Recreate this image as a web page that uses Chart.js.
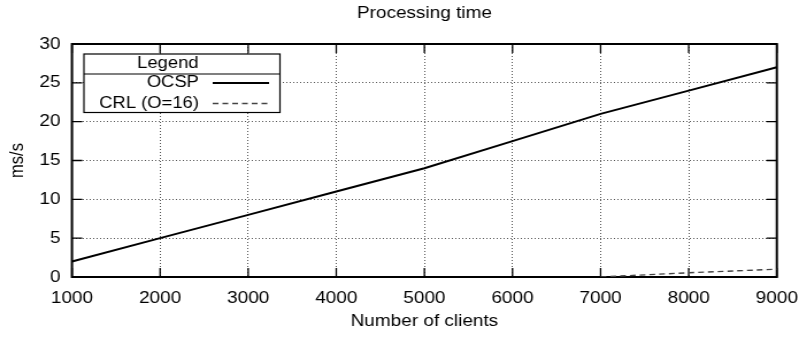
<!DOCTYPE html>
<html>
<head>
<meta charset="utf-8">
<script src="https://cdn.jsdelivr.net/npm/chart.js@4"></script>
<style>
  html, body { margin: 0; padding: 0; background: #fff; }
</style>
</head>
<body>
<!-- the reference is a gnuplot image stretched ~1.15x horizontally, so draw narrow and stretch -->
<canvas id="c" width="695" height="339" style="width:799px;height:339px;display:block"></canvas>
<script>
  // data
  const clients = [1000, 2000, 3000, 4000, 5000, 6000, 7000, 8000, 9000];
  const ocsp = [2, 5, 8, 11, 14, 17.5, 21, 24, 27];
  const crl = [null, null, null, null, null, null, 0, 0.55, 1];
  const seriesNames = ["OCSP", "CRL (O=16)"];

  const FONT = "'Liberation Sans', Arial, Helvetica, sans-serif";
  const toPoints = (ys) => clients.map((x, i) => ({ x: x, y: ys[i] }));

  // gnuplot style frame: solid border + inward tick marks on all four sides
  const framePlugin = {
    id: "frame",
    beforeDatasetsDraw: (chart) => {
      const ctx = chart.ctx;
      const a = chart.chartArea;
      const xs = chart.scales.x, ys = chart.scales.y;
      ctx.save();
      ctx.strokeStyle = "#000";
      ctx.lineWidth = 1.3;
      ctx.beginPath();
      xs.ticks.forEach(t => {
        const px = xs.getPixelForValue(t.value);
        ctx.moveTo(px, a.bottom); ctx.lineTo(px, a.bottom - 9);
        ctx.moveTo(px, a.top); ctx.lineTo(px, a.top + 9);
      });
      ys.ticks.forEach(t => {
        const py = ys.getPixelForValue(t.value);
        ctx.moveTo(a.left, py); ctx.lineTo(a.left + 9, py);
        ctx.moveTo(a.right, py); ctx.lineTo(a.right - 9, py);
      });
      ctx.stroke();
      ctx.lineWidth = 2;
      ctx.strokeRect(a.left, a.top, a.right - a.left, a.bottom - a.top);
      ctx.restore();
    },
    // boxed key with a "Legend" header, drawn over the plot
    afterDatasetsDraw: (chart) => {
      const ctx = chart.ctx;
      const ds = chart.data.datasets;
      const box = { l: 73, t: 54, r: 243.5, b: 112.5, sep: 74 };
      ctx.save();
      ctx.fillStyle = "#fff";
      ctx.fillRect(box.l, box.t, box.r - box.l, box.b - box.t);
      ctx.strokeStyle = "#000";
      ctx.lineWidth = 1.2;
      ctx.strokeRect(box.l, box.t, box.r - box.l, box.b - box.t);
      ctx.beginPath();
      ctx.moveTo(box.l, box.sep); ctx.lineTo(box.r, box.sep);
      ctx.stroke();

      ctx.fillStyle = "#000";
      ctx.font = "16px " + FONT;
      ctx.textBaseline = "middle";
      ctx.textAlign = "center";
      ctx.fillText("Legend", 146, 64);

      const rows = [83, 103.5];
      ds.forEach((d, i) => {
        ctx.textAlign = "right";
        ctx.fillStyle = "#000";
        ctx.fillText(d.label, 173, rows[i]);
        ctx.strokeStyle = d.borderColor;
        ctx.lineWidth = d.borderWidth;
        ctx.setLineDash(d.borderDash || []);
        ctx.beginPath();
        ctx.moveTo(185, rows[i]);
        ctx.lineTo(234, rows[i]);
        ctx.stroke();
      });
      ctx.restore();
    }
  };

  const chart = new Chart(document.getElementById("c").getContext("2d"), {
    type: "line",
    data: {
      datasets: [
        {
          label: seriesNames[0],
          data: toPoints(ocsp),
          borderColor: "#000",
          borderWidth: 2,
          pointRadius: 0,
          tension: 0,
          fill: false
        },
        {
          label: seriesNames[1],
          data: toPoints(crl),
          borderColor: "#444",
          borderWidth: 1.4,
          borderDash: [5, 3.5],
          pointRadius: 0,
          tension: 0,
          fill: false
        }
      ]
    },
    options: {
      responsive: false,
      animation: false,
      devicePixelRatio: 1,
      layout: { padding: { left: 0, right: 19.3, top: 0, bottom: 0 } },
      plugins: {
        legend: { display: false },
        tooltip: { enabled: false },
        title: {
          display: true,
          text: "Processing time",
          color: "#000",
          fullSize: false,
          font: { family: FONT, size: 16.5, weight: "normal" },
          padding: { top: 4, bottom: 20.2 }
        }
      },
      scales: {
        x: {
          type: "linear",
          min: 1000,
          max: 9000,
          // fixed height, and no extra room for the end labels
          afterFit: (s) => { s.height = 62; s.paddingLeft = 0; s.paddingRight = 0; },
          ticks: {
            stepSize: 1000,
            color: "#000",
            padding: 12,
            maxRotation: 0,
            callback: (v) => String(v),
            font: { family: FONT, size: 16.5 }
          },
          grid: { color: "#555", lineWidth: 1, drawTicks: false },
          border: { display: false, dash: [1, 2] },
          title: {
            display: true,
            text: "Number of clients",
            color: "#000",
            font: { family: FONT, size: 16.5 },
            padding: { top: 0, bottom: 8 }
          }
        },
        y: {
          min: 0,
          max: 30,
          afterFit: (s) => { s.width = 62.6; s.paddingTop = 0; s.paddingBottom = 0; },
          ticks: {
            stepSize: 5,
            color: "#000",
            padding: 10,
            callback: (v) => String(v),
            font: { family: FONT, size: 16.5 }
          },
          grid: { color: "#555", lineWidth: 1, drawTicks: false },
          border: { display: false, dash: [1, 2] },
          title: {
            display: true,
            text: "ms/s",
            color: "#000",
            font: { family: FONT, size: 16.5 },
            padding: { top: 6, bottom: 0 }
          }
        }
      }
    },
    plugins: [framePlugin]
  });
</script>
</body>
</html>
